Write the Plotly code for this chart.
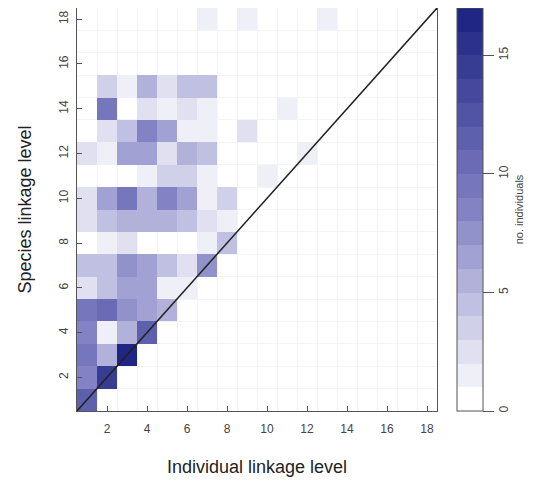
import plotly.graph_objects as go

# Individual linkage level (x) and species linkage level (y)
individual_levels = list(range(1, 19))
species_levels = list(range(1, 19))
tick_values = [2, 4, 6, 8, 10, 12, 14, 16, 18]
cbar_ticks = [0, 5, 10, 15]

# counts of individuals: one list per species linkage level (row), columns = individual level 1..18
species_1 = [11, 0, 0, 0, 0, 0, 0, 0, 0, 0, 0, 0, 0, 0, 0, 0, 0, 0]
species_2 = [8, 14, 0, 0, 0, 0, 0, 0, 0, 0, 0, 0, 0, 0, 0, 0, 0, 0]
species_3 = [9, 5, 17, 0, 0, 0, 0, 0, 0, 0, 0, 0, 0, 0, 0, 0, 0, 0]
species_4 = [8, 1, 5, 11, 0, 0, 0, 0, 0, 0, 0, 0, 0, 0, 0, 0, 0, 0]
species_5 = [9, 10, 7, 6, 5, 0, 0, 0, 0, 0, 0, 0, 0, 0, 0, 0, 0, 0]
species_6 = [2, 4, 6, 6, 1, 1, 0, 0, 0, 0, 0, 0, 0, 0, 0, 0, 0, 0]
species_7 = [4, 4, 7, 6, 4, 2, 7, 0, 0, 0, 0, 0, 0, 0, 0, 0, 0, 0]
species_8 = [0, 1, 2, 0, 0, 0, 1, 4, 0, 0, 0, 0, 0, 0, 0, 0, 0, 0]
species_9 = [2, 4, 5, 5, 5, 4, 2, 1, 0, 0, 0, 0, 0, 0, 0, 0, 0, 0]
species_10 = [2, 6, 9, 5, 8, 6, 1, 3, 0, 0, 0, 0, 0, 0, 0, 0, 0, 0]
species_11 = [0, 0, 0, 1, 3, 3, 1, 0, 0, 1, 0, 0, 0, 0, 0, 0, 0, 0]
species_12 = [2, 1, 6, 6, 2, 5, 4, 0, 0, 0, 0, 1, 0, 0, 0, 0, 0, 0]
species_13 = [0, 2, 4, 8, 6, 1, 1, 0, 2, 0, 0, 0, 0, 0, 0, 0, 0, 0]
species_14 = [0, 9, 0, 2, 1, 2, 1, 0, 0, 0, 1, 0, 0, 0, 0, 0, 0, 0]
species_15 = [0, 3, 1, 5, 2, 4, 4, 0, 0, 0, 0, 0, 0, 0, 0, 0, 0, 0]
species_16 = [0] * 18
species_17 = [0] * 18
species_18 = [0, 0, 0, 0, 0, 0, 1, 0, 1, 0, 0, 0, 1, 0, 0, 0, 0, 0]

rows = [species_1, species_2, species_3, species_4, species_5, species_6,
        species_7, species_8, species_9, species_10, species_11, species_12,
        species_13, species_14, species_15, species_16, species_17, species_18]

z = [[(v if v > 0 else None) for v in r] for r in rows]

ZMAX = 17
NB = 17
ramp = [(0.0, (255, 255, 255)), (0.5, (130, 130, 196)), (1.0, (32, 38, 132))]


def band_color(k):
    t = k / (NB - 1)
    for (t0, c0), (t1, c1) in zip(ramp[:-1], ramp[1:]):
        if t0 <= t <= t1:
            f = (t - t0) / (t1 - t0)
            c = [round(c0[i] + (c1[i] - c0[i]) * f) for i in range(3)]
            return f"rgb({c[0]},{c[1]},{c[2]})"


colorscale = []
eps = 0.002
for k in range(NB):
    lo = 0.0 if k == 0 else (k - eps) / ZMAX
    hi = 1.0 if k == NB - 1 else (k + 1 - eps) / ZMAX
    colorscale.append([lo, band_color(k)])
    colorscale.append([hi, band_color(k)])

font_family = "Liberation Sans, Arial, Helvetica, sans-serif"

fig = go.Figure()
fig.add_trace(go.Heatmap(
    x=individual_levels, y=species_levels, z=z,
    zmin=0, zmax=ZMAX, colorscale=colorscale,
    hoverongaps=False,
    colorbar=dict(
        x=1.0556, xanchor="left", xpad=0, y=0.5, yanchor="middle",
        len=1, lenmode="fraction", thickness=26, ypad=0,
        outlinewidth=1, outlinecolor="#555555",
        tickmode="array", tickvals=cbar_ticks, ticks="outside", ticklen=11,
        tickcolor="#555555", tickangle=-90,
        tickfont=dict(size=12, color="#444444", family=font_family),
        title=dict(text="no. individuals", side="right",
                   font=dict(size=11, color="#444444", family=font_family)),
    ),
))

lo_lim, hi_lim = 0.5, 18.5
fig.add_trace(go.Scatter(
    x=[lo_lim, hi_lim], y=[lo_lim, hi_lim], mode="lines",
    line=dict(color="#222222", width=1.5), showlegend=False, hoverinfo="skip",
))

axis_common = dict(
    range=[lo_lim, hi_lim], tickmode="array", tickvals=tick_values,
    ticks="inside", ticklen=5, tickcolor="#555555",
    showline=True, linecolor="#555555", linewidth=1, mirror=True,
    showgrid=False, zeroline=False,
    tickfont=dict(size=12, color="#444444", family=font_family),
    minor=dict(tick0=0.5, dtick=1, showgrid=True, gridcolor="#f4f4f7", gridwidth=1, ticks=""),
)

fig.update_layout(
    width=527, height=475,
    margin=dict(l=69, r=98, t=0, b=72),
    paper_bgcolor="white", plot_bgcolor="white",
    showlegend=False,
    font=dict(family=font_family),
    xaxis=dict(**axis_common, ticklabelstandoff=7,
               title=dict(text="Individual linkage level", standoff=24,
                          font=dict(size=18, color="#222222", family=font_family))),
    yaxis=dict(**axis_common, tickangle=-90, ticklabelstandoff=3,
               title=dict(text="Species linkage level", standoff=20,
                          font=dict(size=18, color="#222222", family=font_family))),
)

fig.write_html("out.html")
